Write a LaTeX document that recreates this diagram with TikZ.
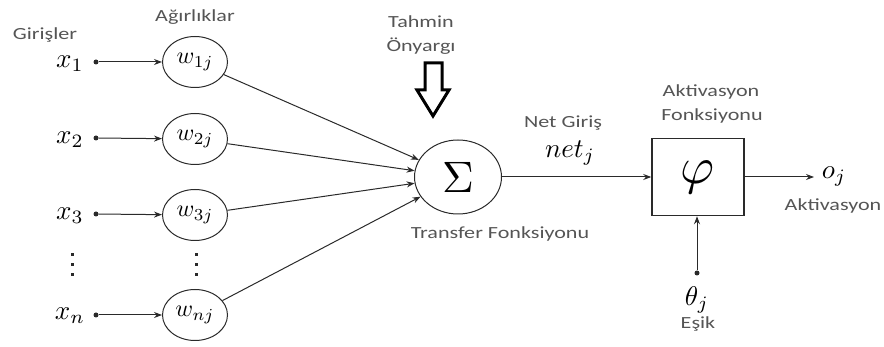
\documentclass[tikz,border=0pt]{standalone}
\usepackage{fontspec}
\usepackage{graphicx}
\newfontfamily\lblfont[FakeStretch=1.3]{Carlito}
\usetikzlibrary{shapes.geometric,arrows.meta}
\definecolor{ink}{HTML}{2A2A2A}
\definecolor{lbl}{HTML}{555555}
% math symbol set at 10pt and scaled up
\newcommand\bigmath[2]{\scalebox{#1}{$#2$}}
\tikzset{
  lab/.style={inner sep=0pt, text=lbl, font=\lblfont\fontsize{17}{19}\selectfont},
  wnode/.style={draw=ink, line width=1pt, ellipse, minimum width=65pt, minimum height=51pt, inner sep=0pt},
  xin/.style={inner sep=0pt},
  dotpt/.style={circle, fill=ink, inner sep=0pt, minimum size=5pt},
  vdot/.style={rectangle, fill=ink, inner sep=0pt, minimum size=3pt},
  conn/.style={draw=ink, line width=1pt, -{Stealth[length=8pt,width=6pt]}},
}
\begin{document}
\begin{tikzpicture}[x=1pt,y=-1pt]
\useasboundingbox (0,0) rectangle (884,347);

% section headings
\node[lab] (hin) at (45,35) {Girişler};
\node[lab] (hw) at (195,17) {Ağırlıklar};
\node[lab] (hb1) at (421,22) {Tahmin};
\node[lab] (hb2) at (421,46) {Önyargı};

% inputs and weights
\node[xin] (x1) at (70,64) {\bigmath{2.7}{x_1}};
\node[xin] (x2) at (70,140) {\bigmath{2.7}{x_2}};
\node[xin] (x3) at (70,216) {\bigmath{2.7}{x_3}};
\node[xin] (xn) at (70,316) {\bigmath{2.7}{x_n}};

\node[dotpt] (d1) at (96,62) {};
\node[dotpt] (d2) at (96,138) {};
\node[dotpt] (d3) at (96,214) {};
\node[dotpt] (dn) at (96,315) {};

\node[wnode] (w1) at (195,62) {\bigmath{2.4}{w_{1j}}};
\node[wnode] (w2) at (195,139) {\bigmath{2.4}{w_{2j}}};
\node[wnode] (w3) at (195,215) {\bigmath{2.4}{w_{3j}}};
\node[wnode] (wn) at (195,315) {\bigmath{2.4}{w_{nj}}};

% vertical ellipsis dots
\foreach \k/\yy in {a/255,b/265,c/275} {
  \node[vdot] (xv\k) at (72,\yy) {};
  \node[vdot] (wv\k) at (196,\yy) {};
}

\draw[conn] (d1) -- (w1);
\draw[conn] (d2) -- (w2);
\draw[conn] (d3) -- (w3);
\draw[conn] (dn) -- (wn);

% summation
\node[draw=ink, line width=1pt, ellipse, minimum width=87pt, minimum height=74pt, inner sep=0pt] (sig) at (458,177) {\bigmath{4.4}{\Sigma}};
\node[lab] (tf) at (500,234) {Transfer Fonksiyonu};

\draw[conn] (w1) -- (sig);
\draw[conn] (w2) -- (sig);
\draw[conn] (w3) -- (sig);
\draw[conn] (wn) -- (sig);

% bias arrow (hollow)
\draw[draw=black, line width=3pt, line join=miter, fill=white]
  (425,63) -- (442,63) -- (442,90) -- (449,90) -- (433,116) -- (417,90) -- (425,90) -- cycle;

% net input
\node[lab] (ng) at (563,123) {Net Giriş};
\node[xin] (net) at (570,153) {\bigmath{2.7}{net_j}};

% activation box
\node[draw=ink, line width=1.5pt, minimum width=92pt, minimum height=77pt, inner sep=0pt] (phi) at (698,177) {\bigmath{5.2}{\varphi}};
\node[lab] (af1) at (711,92) {Aktivasyon};
\node[lab] (af2) at (712,116) {Fonksiyonu};

\draw[conn] (sig) -- (phi);

% output
\coordinate (oend) at (814,177);
\node[xin] (oj) at (834,177) {\bigmath{2.7}{o_j}};
\node[lab] (aout) at (833,206) {Aktivasyon};
\draw[conn] (phi.east) -- (oend);

% threshold
\node[dotpt] (dth) at (697,273) {};
\node[xin] (th) at (697,300) {\bigmath{2.7}{\theta_j}};
\node[lab] (es) at (698,324) {Eşik};
\draw[conn] (dth) -- (dth |- phi.south);
\end{tikzpicture}
\end{document}
